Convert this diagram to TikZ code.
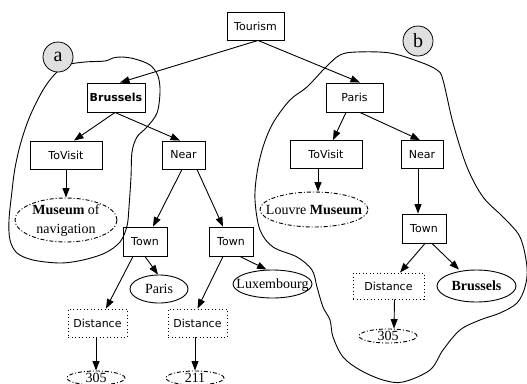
\documentclass[tikz,border=0pt]{standalone}
\usepackage{fontspec}
\setmainfont{Liberation Serif}
\setsansfont{DejaVu Sans}
\usetikzlibrary{arrows.meta,shapes.geometric}
\newcommand{\etext}[1]{\smash{\makebox[0pt]{\raisebox{-0.33em}{#1}}}}
\begin{document}
\begin{tikzpicture}[x=1pt,y=-1pt,
 box/.style={draw, line width=0.9pt, rectangle, inner sep=0pt, font=\sffamily\fontsize{11}{13}\selectfont},
 dbox/.style={box, dash pattern=on 1pt off 2.5pt},
 ell/.style={draw, ellipse, line width=0.9pt, inner sep=0pt, font=\fontsize{14}{19}\selectfont},
 dell/.style={ell, dash pattern=on 4pt off 2pt on 1pt off 2pt},
 tag/.style={draw, circle, fill=black!12, minimum size=30pt, inner sep=0pt, line width=0.8pt, font=\fontsize{20}{24}\selectfont},
 arr/.style={-{Triangle[length=9.5pt,width=7pt]}, line width=0.9pt},
 blob/.style={line width=0.9pt}]
\clip (0,0) rectangle (527,383);
% blobs
\draw[blob] plot[smooth cycle, tension=0.55] coordinates {
 (67,65) (85,62) (105,61) (113,58) (122,57) (135,59) (150,65) (158,76) (160,92) (157,113) (147,127) (137,137)
 (132,152) (131,177) (129,207) (127,226) (120,242) (105,253) (83,260) (60,263) (33,260) (17,253) (10,240)
 (9,220) (12,191) (15,168) (21,142) (30,116) (43,90) (55,74)};
\draw[blob] plot[smooth cycle, tension=0.55] coordinates {
 (340,55) (357,52) (390,53) (420,62) (437,70) (443,80) (453,123) (467,167) (483,197) (503,217) (520,237)
 (527,267) (525,287) (517,303) (500,313) (480,320) (460,330) (443,350) (430,370) (403,382) (383,380)
 (360,370) (343,357) (333,337) (330,320) (323,307) (317,287) (312,270) (297,257) (273,247) (260,230)
 (255,200) (257,173) (263,147) (273,123) (290,100) (307,87) (325,68)};
% tags
\node[tag] (ca) at (58,57) {a};
\node[tag] (cb) at (418,41) {b};
% boxes
\node[box, minimum width=57pt, minimum height=28pt] (tour) at (255.5,26) {Tourism};
\node[box, minimum width=58pt, minimum height=29pt] (bru) at (116,97.5) {\bfseries Brussels};
\node[box, minimum width=57pt, minimum height=29pt] (par) at (354.5,97.5) {Paris};
\node[box, minimum width=72pt, minimum height=28pt] (tvL) at (66,155) {ToVisit};
\node[box, minimum width=43pt, minimum height=28pt] (nearL) at (183.5,155) {Near};
\node[box, minimum width=72pt, minimum height=28pt] (tvR) at (326,154.5) {ToVisit};
\node[box, minimum width=42pt, minimum height=28pt] (nearR) at (422,154.5) {Near};
\node[box, minimum width=44pt, minimum height=29pt] (townL) at (145,241.5) {Town};
\node[box, minimum width=44pt, minimum height=29pt] (townM) at (231,241.5) {Town};
\node[box, minimum width=44pt, minimum height=29pt] (townR) at (424,228.5) {Town};
\node[dbox, minimum width=59pt, minimum height=28pt] (distL) at (97.5,323) {Distance};
\node[dbox, minimum width=59pt, minimum height=28pt] (distM) at (197.5,323) {Distance};
\node[dbox, minimum width=71pt, minimum height=26pt] (distR) at (388.5,286) {Distance};
% ellipses
\node[dell, minimum width=102pt, minimum height=44pt] (mus) at (66,220)
  {\smash{\makebox[0pt]{\raisebox{-0.25em}{\begin{tabular}{@{}c@{}}\textbf{Museum} of\\navigation\end{tabular}}}}};
\node[dell, minimum width=108pt, minimum height=35pt] (louv) at (314,209.5) {\etext{Louvre \textbf{Museum}}};
\node[ell, minimum width=58pt, minimum height=28pt] (parE) at (159,289) {\etext{Paris}};
\node[ell, minimum width=79pt, minimum height=28pt] (lux) at (272.5,284) {\etext{Luxembourg}};
\node[ell, minimum width=79pt, minimum height=32pt] (bruE) at (476.5,286) {\etext{\textbf{Brussels}}};
\node[dell, minimum width=58pt, minimum height=14pt] (vA) at (96,378) {\etext{305}};
\node[dell, minimum width=58pt, minimum height=14pt] (vB) at (195,378) {\etext{211}};
\node[dell, minimum width=58pt, minimum height=14pt] (vC) at (388,336) {\etext{305}};
% edges
\draw[arr] ([xshift=2.5pt]tour.south) -- ([xshift=4pt]bru.north);
\draw[arr] ([xshift=2.5pt]tour.south) -- ([xshift=5.5pt]par.north);
\draw[arr] ([xshift=-1pt]bru.south) -- ([xshift=8pt]tvL.north);
\draw[arr] ([xshift=-1pt]bru.south) -- ([xshift=-3.5pt]nearL.north);
\draw[arr] (tvL.south) -- (mus.north);
\draw[arr] ([xshift=-1.5pt]nearL.south) -- ([xshift=8pt]townL.north);
\draw[arr] ([xshift=13.5pt]nearL.south) -- ([xshift=-8pt]townM.north);
\draw[arr] ([xshift=-12pt]townL.south) -- ([xshift=8.5pt]distL.north);
\draw[arr] (townL.south) -- ([xshift=-1pt]parE.north);
\draw[arr] ([xshift=-8pt]townM.south) -- (distM.north);
\draw[arr] ([xshift=9pt]townM.south) -- ([xshift=-6pt]lux.north);
\draw[arr] ([xshift=-1.5pt]distL.south) -- (vA.north);
\draw[arr] ([xshift=-2.5pt]distM.south) -- (vB.north);
\draw[arr] ([xshift=-8.5pt]par.south) -- ([xshift=7pt]tvR.north);
\draw[arr] ([xshift=5.5pt]par.south) -- ([xshift=-2pt]nearR.north);
\draw[arr] ([xshift=-8pt]tvR.south) -- ([xshift=4pt]louv.north);
\draw[arr] ([xshift=-4pt]nearR.south) -- ([xshift=-6pt]townR.north);
\draw[arr] ([xshift=1pt]townR.south) -- ([xshift=11.5pt]distR.north);
\draw[arr] ([xshift=8pt]townR.south) -- ([xshift=-17.5pt]bruE.north);
\draw[arr] ([xshift=6pt]distR.south) -- ([xshift=6pt]vC.north);
\end{tikzpicture}
\end{document}
